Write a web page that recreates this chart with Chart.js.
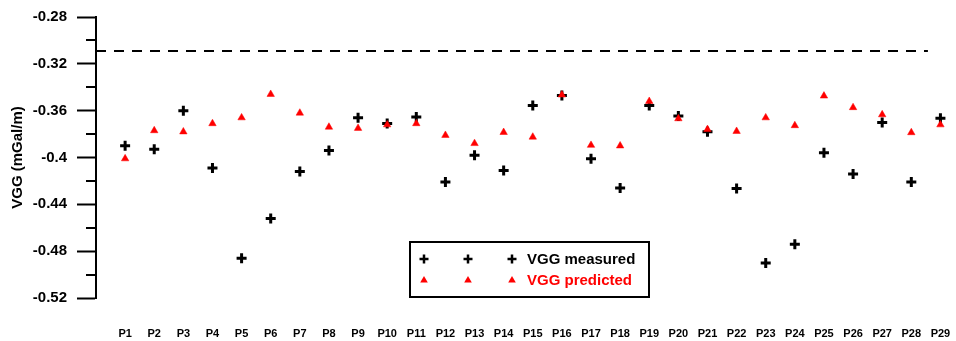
<!DOCTYPE html>
<html>
<head>
<meta charset="utf-8">
<script src="https://cdn.jsdelivr.net/npm/chart.js@4/dist/chart.umd.min.js"></script>
<style>
  html, body { margin: 0; padding: 0; background: #fff; }
  #wrap { width: 956px; height: 341px; position: relative; }
</style>
</head>
<body>
<div id="wrap"><canvas id="c" width="956" height="341"></canvas></div>
<script>
const categories = ['P1','P2','P3','P4','P5','P6','P7','P8','P9','P10','P11','P12','P13','P14','P15','P16','P17','P18','P19','P20','P21','P22','P23','P24','P25','P26','P27','P28','P29'];
const measured = [-0.390, -0.393, -0.360, -0.409, -0.486, -0.452, -0.412, -0.394, -0.366, -0.371, -0.3655, -0.421, -0.398, -0.411, -0.3555, -0.347, -0.401, -0.426, -0.3555, -0.3645, -0.378, -0.4265, -0.490, -0.474, -0.396, -0.414, -0.370, -0.421, -0.3665];
const predicted = [-0.401, -0.377, -0.378, -0.371, -0.366, -0.346, -0.362, -0.374, -0.375, -0.372, -0.371, -0.381, -0.388, -0.3785, -0.3825, -0.3465, -0.3895, -0.390, -0.352, -0.3668, -0.376, -0.3776, -0.366, -0.3727, -0.3474, -0.3573, -0.3634, -0.3787, -0.372];
const yTickValues = [-0.28, -0.32, -0.36, -0.4, -0.44, -0.48, -0.52];
const yTickLabels = ['-0.28', '-0.32', '-0.36', '-0.4', '-0.44', '-0.48', '-0.52'];
const refLineX = [0, 28.57];
const refLineY = -0.309;
const legendLabels = ['VGG measured', 'VGG predicted'];

const FONT = "'Liberation Sans', Arial, sans-serif";
Chart.defaults.font.family = FONT;
Chart.defaults.color = '#000';

function isMajor(v) { return Math.abs(Math.round(v * 100)) % 4 === 0; }
function tickLabel(v) {
  for (let i = 0; i < yTickValues.length; i++) {
    if (Math.abs(yTickValues[i] - v) < 1e-6) return yTickLabels[i];
  }
  return '';
}

const minorTicks = {
  id: 'minorTicks',
  afterDraw(chart) {
    const y = chart.scales.y, ctx = chart.ctx;
    const x0 = chart.chartArea.left;
    ctx.save();
    ctx.strokeStyle = '#000';
    ctx.lineWidth = 2;
    y.ticks.forEach(t => {
      if (!isMajor(t.value)) {
        const py = Math.round(y.getPixelForValue(t.value));
        ctx.beginPath();
        ctx.moveTo(x0 - 10, py);
        ctx.lineTo(x0, py);
        ctx.stroke();
      }
    });
    ctx.restore();
  }
};

const boxLegend = {
  id: 'boxLegend',
  afterDraw(chart) {
    const ctx = chart.ctx;
    ctx.save();
    ctx.strokeStyle = '#000';
    ctx.lineWidth = 2;
    ctx.strokeRect(410, 242, 239, 55);
    const rows = [259, 280];
    const symX = [424, 468, 512];
    ctx.strokeStyle = '#000';
    ctx.lineWidth = 2.5;
    symX.forEach(x => {
      ctx.beginPath();
      ctx.moveTo(x - 4.5, rows[0]); ctx.lineTo(x + 4.5, rows[0]);
      ctx.moveTo(x, rows[0] - 4.5); ctx.lineTo(x, rows[0] + 4.5);
      ctx.stroke();
    });
    ctx.fillStyle = '#ff0000';
    symX.forEach(x => {
      ctx.beginPath();
      ctx.moveTo(x, rows[1] - 4);
      ctx.lineTo(x + 3.8, rows[1] + 2.6);
      ctx.lineTo(x - 3.8, rows[1] + 2.6);
      ctx.closePath();
      ctx.fill();
    });
    ctx.font = 'bold 15px ' + FONT;
    ctx.textBaseline = 'middle';
    ctx.textAlign = 'left';
    ctx.fillStyle = '#000';
    ctx.fillText(legendLabels[0], 527, rows[0] + 1);
    ctx.fillStyle = '#ff0000';
    ctx.fillText(legendLabels[1], 527, rows[1] + 1);
    ctx.restore();
  }
};

new Chart(document.getElementById('c'), {
  type: 'scatter',
  data: {
    datasets: [
      {
        label: legendLabels[0],
        data: measured.map((v, i) => ({ x: i + 1, y: v })),
        pointStyle: 'cross',
        pointRadius: 5,
        pointBorderWidth: 3,
        borderWidth: 3,
        borderColor: '#000',
        backgroundColor: '#000',
        order: 2
      },
      {
        label: legendLabels[1],
        data: predicted.map((v, i) => ({ x: i + 1, y: v })),
        pointStyle: 'triangle',
        pointRadius: 4.3,
        borderWidth: 0.5,
        borderColor: '#ff0000',
        backgroundColor: '#ff0000',
        order: 1
      },
      {
        label: 'ref',
        data: refLineX.map(x => ({ x: x, y: refLineY })),
        showLine: true,
        borderColor: '#000',
        borderWidth: 2,
        borderDash: [10, 8],
        pointRadius: 0,
        order: 3
      }
    ]
  },
  options: {
    responsive: false,
    animation: false,
    events: [],
    layout: { padding: { top: 17, bottom: 1, left: 0, right: 0 } },
    plugins: { legend: { display: false }, tooltip: { enabled: false } },
    scales: {
      x: {
        type: 'linear',
        min: 0,
        max: 29.26,
        afterFit: (s) => { s.height = 42; s.paddingLeft = 0; s.paddingRight = 0; },
        grid: { display: false, drawTicks: false },
        border: { display: false },
        afterBuildTicks: (axis) => { axis.ticks = categories.map((c, i) => ({ value: i + 1 })); },
        ticks: {
          autoSkip: false,
          maxRotation: 0,
          padding: 29,
          font: { size: 11, weight: 'bold' },
          color: '#000',
          callback: (v) => categories[v - 1] || ''
        }
      },
      y: {
        min: -0.52,
        max: -0.28,
        afterFit: (s) => { s.width = 96; s.paddingTop = 0; s.paddingBottom = 0; },
        grid: {
          drawOnChartArea: false,
          drawTicks: true,
          tickLength: 19,
          tickWidth: 2,
          tickColor: (c) => (c.tick && isMajor(c.tick.value)) ? '#000' : 'rgba(0,0,0,0)'
        },
        border: { display: true, color: '#000', width: 2 },
        ticks: {
          stepSize: 0.02,
          padding: 10,
          font: { size: 15, weight: 'bold' },
          color: '#000',
          callback: (v) => tickLabel(v)
        },
        title: {
          display: true,
          text: 'VGG (mGal/m)',
          font: { size: 15, weight: 'bold' },
          color: '#000',
          padding: { top: 9, bottom: 0 }
        }
      }
    }
  },
  plugins: [minorTicks, boxLegend]
});
</script>
</body>
</html>
